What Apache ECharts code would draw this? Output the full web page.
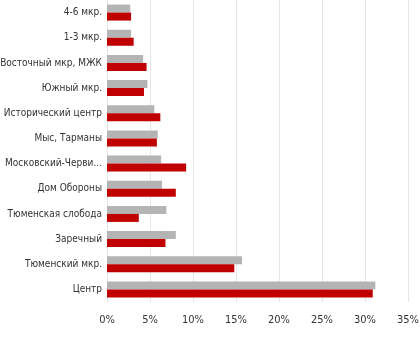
<!DOCTYPE html>
<html><head><meta charset="utf-8">
<script src="https://cdn.jsdelivr.net/npm/echarts@6/dist/echarts.min.js"></script>
<style>html,body{margin:0;padding:0;background:#fff}#c{width:420px;height:360px}</style>
</head><body><div id="c"></div>
<script>
const categories = ["Центр","Тюменский мкр.","Заречный","Тюменская слобода","Дом Обороны","Московский-Червишевский тракт","Мыс, Тарманы","Исторический центр","Южный мкр.","Восточный мкр, МЖК","1-3 мкр.","4-6 мкр."];
const seriesGray = [31.2,15.7,8.0,6.9,6.4,6.3,5.9,5.5,4.7,4.2,2.8,2.7];
const seriesRed = [30.9,14.8,6.8,3.7,8.0,9.2,5.8,6.2,4.3,4.6,3.1,2.8];
const xTicks = [0,5,10,15,20,25,30,35];
const font = '"DejaVu Sans Condensed","DejaVu Sans",sans-serif';
const ctx = document.createElement('canvas').getContext('2d');
ctx.font = '10px ' + font;
function fit(s, w){
  if (ctx.measureText(s).width <= w) return s;
  let t = s;
  while (t.length > 1 && ctx.measureText(t + '...').width > w) t = t.slice(0, -1);
  return t + '...';
}
const chart = echarts.init(document.getElementById('c'));
chart.setOption({
  animation:false,
  grid:{left:107,right:12,top:0,bottom:58,outerBoundsMode:'none',containLabel:false},
  xAxis:{type:'value',min:xTicks[0],max:xTicks[xTicks.length-1],interval:5,
    axisLine:{show:false},axisTick:{show:false},
    splitLine:{lineStyle:{color:'#e6e6e6',width:1}},
    axisLabel:{formatter:v=>v+'%',color:'#333',fontFamily:font,fontSize:11,margin:13}},
  yAxis:{type:'category',data:categories,
    axisLine:{show:false},axisTick:{show:false},
    axisLabel:{color:'#333',fontFamily:font,fontSize:10,margin:5,overflow:'none',
      formatter:v=>fit(v,102)}},
  series:[
    {type:'bar',data:seriesGray,barWidth:8,barGap:'0%',itemStyle:{color:'#b4b4b4'}},
    {type:'bar',data:seriesRed,barWidth:8,barGap:'0%',itemStyle:{color:'#c00000'}}
  ]
});
</script></body></html>
